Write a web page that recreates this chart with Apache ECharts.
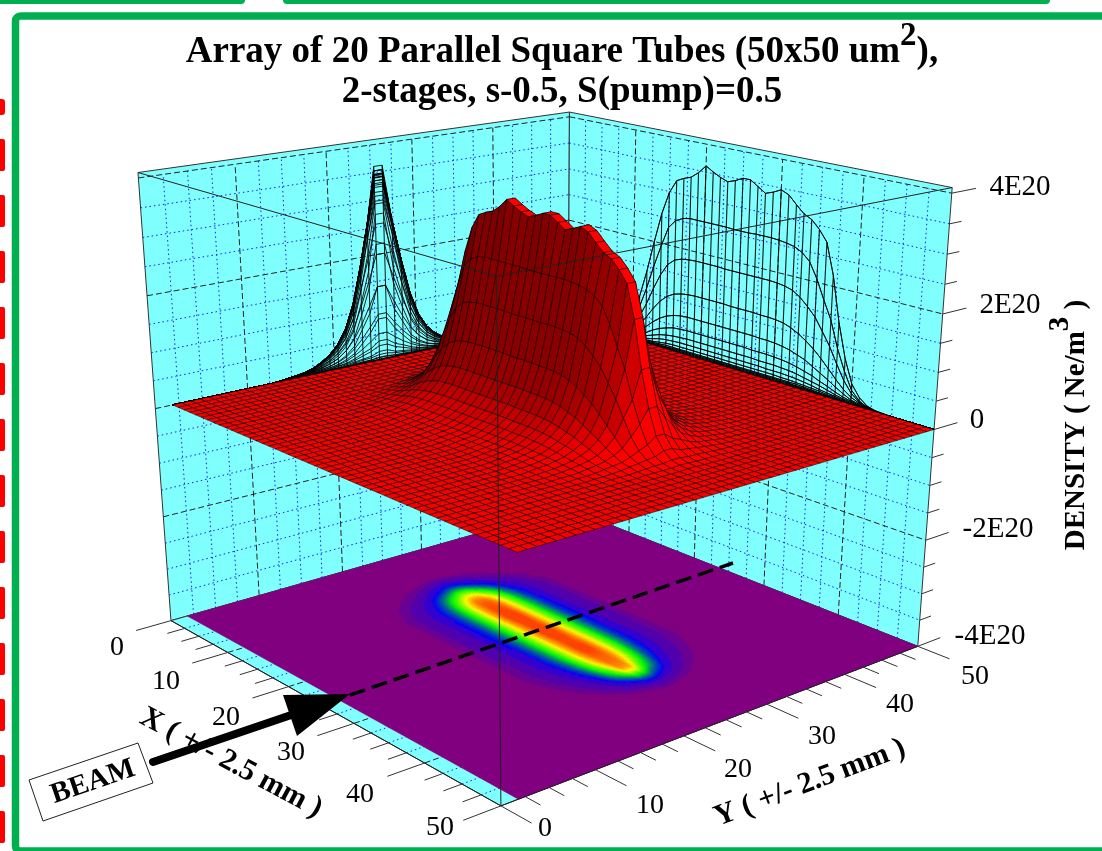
<!DOCTYPE html>
<html><head><meta charset="utf-8">
<script src="https://cdn.jsdelivr.net/npm/echarts@6/dist/echarts.min.js"></script>
<style>html,body{margin:0;padding:0;background:#fff}#c{width:1102px;height:851px}</style></head>
<body><div id="c"></div>
<script>
// ---------- data (density in units of 1E18 Ne/m3) ----------
const xTickLabels = ['0','10','20','30','40','50'];
const yTickLabels = ['0','10','20','30','40','50'];
const zTickLabels = ['-4E20','-2E20','0','2E20','4E20'];
const rowCount = 50;
// one list per row, counted outward from the two centre rows of the ridge; each row holds X = 0..50
const row0  = [0,0,0,0,0,1,2,5,11,28,51,88,140,200,256,298,323,330,335,346,361,353,346,341,346,353,353,344,335,340,347,341,327,314,307,293,274,219,140,79,37,17,6,2,1,0,0,0,0,0,0];
const row1  = [0,0,0,0,0,1,2,4,8,20,39,67,107,153,195,233,249,256,259,259,259,259,259,259,258,258,258,259,259,259,258,256,253,246,233,206,172,140,93,56,26,11,4,1,0,0,0,0,0,0,0];
const row2  = [0,0,0,0,0,1,2,3,7,15,28,48,76,110,140,163,175,180,182,183,183,183,183,182,182,182,182,182,182,182,181,179,175,166,153,138,116,93,65,39,20,9,4,1,0,0,0,0,0,0,0];
const row3  = [0,0,0,0,0,1,1,2,5,10,19,32,50,71,89,102,110,114,116,117,117,117,117,117,116,116,116,116,115,115,114,112,107,100,91,80,67,52,37,23,13,7,3,1,0,0,0,0,0,0,0];
const row4  = [0,0,0,0,0,0,1,2,3,7,12,20,32,45,56,64,69,72,73,73,73,73,73,73,73,73,73,73,72,72,71,69,66,61,56,48,40,32,23,15,8,5,2,1,0,0,0,0,0,0,0];
const row5  = [0,0,0,0,0,0,0,1,2,5,8,13,20,29,36,41,45,46,47,47,47,47,47,47,47,47,47,46,46,46,45,44,42,39,35,31,25,20,14,9,6,3,1,0,0,0,0,0,0,0,0];
const row6  = [0,0,0,0,0,0,0,1,1,3,6,9,14,19,24,27,29,30,31,31,31,31,31,31,31,31,31,31,30,30,30,29,28,26,23,20,17,13,9,6,4,2,1,0,0,0,0,0,0,0,0];
const row7  = [0,0,0,0,0,0,0,0,1,2,4,6,9,12,16,18,19,20,20,20,20,20,20,20,20,20,20,20,20,19,19,19,18,17,15,13,10,8,6,4,2,1,1,0,0,0,0,0,0,0,0];
const row8  = [0,0,0,0,0,0,0,0,1,1,2,4,6,7,9,11,12,12,12,12,12,12,12,12,12,12,12,12,12,12,12,11,11,10,9,8,7,5,4,2,1,1,0,0,0,0,0,0,0,0,0];
const row9  = [0,0,0,0,0,0,0,0,0,1,1,2,4,5,6,7,7,7,7,7,7,7,7,7,7,7,7,7,7,7,7,7,7,7,6,5,4,3,2,1,1,0,0,0,0,0,0,0,0,0,0];
const row10 = [0,0,0,0,0,0,0,0,0,0,1,1,2,3,4,4,5,5,5,5,5,5,5,5,5,5,5,5,5,5,5,5,5,4,4,3,3,2,1,1,0,0,0,0,0,0,0,0,0,0,0];
const row11 = [0,0,0,0,0,0,0,0,0,0,0,0,1,2,2,3,3,3,3,3,3,3,3,3,3,3,3,3,3,3,3,3,3,3,2,2,1,1,0,0,0,0,0,0,0,0,0,0,0,0,0];
const row12 = [0,0,0,0,0,0,0,0,0,0,0,0,0,1,1,1,1,1,1,1,1,1,1,1,1,1,1,1,1,1,1,1,1,1,1,1,0,0,0,0,0,0,0,0,0,0,0];
const ridgeRows = [row0,row1,row2,row3,row4,row5,row6,row7,row8,row9,row10,row11,row12];

// ---------- view calibration ----------
const serif = '"Liberation Serif","Times New Roman",serif';
const Y0 = 1.8, DY = (50 - Y0) / (rowCount - 1);
const TOP = 409;
const anchors = [
  [0,0,-400,171.7,620],[50,0,-400,500.5,806.5],[50,50,-400,918.3,646],[0,50,-400,567,509],
  [0,0,TOP,137.5,172.7],[50,0,TOP,497,277],[50,50,TOP,952,187.5],[0,50,TOP,570,112],
  [50,50,0,933,429],[50,50,200,943,314],[50,50,-200,926,540],[0,0,0,155,408]
];
function fitView(a){
  const n=11, A=[...Array(n)].map(()=>Array(n+1).fill(0));
  const add=(r,b)=>{for(let i=0;i<n;i++){for(let j=0;j<n;j++)A[i][j]+=r[i]*r[j];A[i][n]+=r[i]*b;}};
  a.forEach(([X,Y,Z,u,v])=>{const x=X/50,y=Y/50,z=Z/400;u/=1000;v/=1000;
    add([x,y,z,1,0,0,0,0,-u*x,-u*y,-u*z],u);add([0,0,0,0,x,y,z,1,-v*x,-v*y,-v*z],v);});
  for(let i=0;i<n;i++){let p=i;for(let k=i+1;k<n;k++)if(Math.abs(A[k][i])>Math.abs(A[p][i]))p=k;
    [A[i],A[p]]=[A[p],A[i]];for(let k=0;k<n;k++){if(k===i)continue;const f=A[k][i]/A[i][i];
      for(let j=i;j<=n;j++)A[k][j]-=f*A[i][j];}}
  return A.map((r,i)=>r[n]/r[i]);
}
const V = fitView(anchors);
function proj(X,Y,Z){const x=X/50,y=Y/50,z=Z/400,w=V[8]*x+V[9]*y+V[10]*z+1;
  return [(V[0]*x+V[1]*y+V[2]*z+V[3])/w*1000,(V[4]*x+V[5]*y+V[6]*z+V[7])/w*1000];}

const rowY = i => Y0 + i*DY;
const val = (ix,iy) => { const d=iy<=24?24-iy:iy-25; return d<ridgeRows.length ? (ridgeRows[d][ix]||0) : 0; };

// ---------- mark lists ----------
const poly=(pts,fill,stroke,lw)=>({k:'polygon',pts,fill,stroke,lw});
const line=(pts,stroke,lw,dash,op)=>({k:'polyline',pts,stroke,lw,dash,op});

const CY='#80FFFF', PU='#800080';
const back=[];
back.push(poly([[0,0,-400],[0,50,-400],[0,50,TOP],[0,0,TOP]],CY,'#333',1));
back.push(poly([[0,50,-400],[50,50,-400],[50,50,TOP],[0,50,TOP]],CY,'#333',1));
back.push(poly([[0,0,-400],[50,0,-400],[50,50,-400],[0,50,-400]],CY,'#333',1));
const gridStyle=(major)=>major?['#222',1,[6,3]]:['#1a1aff',1,[1.5,3]];
for(let k=1;k<20;k++){const t=k*2.5,m=k%4===0,[c,w,d]=gridStyle(m);
  back.push(line([[0,t,-400],[0,t,400]],c,w,d));
  back.push(line([[t,50,-400],[t,50,400]],c,w,d));
  back.push(line([[t,0,-400],[t,50,-400]],c,w,d));
  back.push(line([[0,t,-400],[50,t,-400]],c,w,d));
}
for(let k=1;k<=16;k++){const z=-400+k*50,m=k%4===0,[c,w,d]=gridStyle(m);
  back.push(line([[0,0,z],[0,50,z]],c,w,d));
  back.push(line([[0,50,z],[50,50,z]],c,w,d));
}
back.push(poly([[0,Y0,-400],[50,Y0,-400],[50,50,-400],[0,50,-400]],PU,PU,0.5));

// floor colour map
const stops=[[4,128,0,128],[8,105,0,150],[15,80,0,175],[30,50,0,210],[50,0,0,255],[135,0,255,0],[225,255,255,0],[285,255,140,0],[340,255,70,0]];
function mapColor(v){
  if(v<4) return null;
  if(v<50){ for(let i=stops.length-1;i>=0;i--) if(v>=stops[i][0]) return `rgb(${stops[i][1]},${stops[i][2]},${stops[i][3]})`; }
  for(let i=4;i<stops.length-1;i++){const a=stops[i],b=stops[i+1];
    if(v<=b[0]){const t=(v-a[0])/(b[0]-a[0]);return `rgb(${a[1]+t*(b[1]-a[1])|0},${a[2]+t*(b[2]-a[2])|0},${a[3]+t*(b[3]-a[3])|0})`;}}
  return 'rgb(255,70,0)';
}
const floorCells=[];
const SUB=4;
for(let ix=0;ix<50;ix++)for(let iy=0;iy<rowCount-1;iy++){
  const a=val(ix,iy),b=val(ix+1,iy),c=val(ix,iy+1),d=val(ix+1,iy+1);
  if(Math.max(a,b,c,d)<4) continue;
  for(let s=0;s<SUB;s++)for(let t=0;t<SUB;t++){
    const u=(s+.5)/SUB,w=(t+.5)/SUB;
    const v=a*(1-u)*(1-w)+b*u*(1-w)+c*(1-u)*w+d*u*w, col=mapColor(v);
    if(!col) continue;
    const x0=ix+s/SUB,x1=ix+(s+1)/SUB,y0=rowY(iy+t/SUB),y1=rowY(iy+(t+1)/SUB);
    floorCells.push(poly([[x0,y0,-400],[x1,y0,-400],[x1,y1,-400],[x0,y1,-400]],col,col,0.6));
  }
}

// wall projections
const wire=[];
for(let iy=0;iy<rowCount;iy++){const p=[];let mx=0;for(let ix=0;ix<=50;ix++){p.push([ix,50,val(ix,iy)]);mx=Math.max(mx,val(ix,iy));}
  wire.push(line(p,'#000',1,null,0.85));
  wire.push(line([[0,rowY(iy),0],[0,rowY(iy),mx]],'#000',1,null,0.9));}
for(let ix=0;ix<=50;ix++){const p=[];let mx=0;for(let iy=0;iy<rowCount;iy++){p.push([0,rowY(iy),val(ix,iy)]);mx=Math.max(mx,val(ix,iy));}
  wire.push(line(p,'#000',1,null,0.85));
  wire.push(line([[ix,50,0],[ix,50,mx]],'#000',1.1,null,0.9));}

// surface
const surface=[];
const Lx=.8,Ly=.35,Lz=.8;
for(let ix=0;ix<50;ix++)for(let iy=rowCount-2;iy>=0;iy--){
  const a=val(ix,iy),b=val(ix+1,iy),c=val(ix,iy+1),d=val(ix+1,iy+1);
  const dx=((b-a)+(d-c))/2/16, dy=((c-a)+(d-b))/2/(16*DY);
  const l=Math.hypot(dx,dy,1), nx=-dx/l, ny=-dy/l, nz=1/l;
  let I=nx*Lx+ny*Ly+nz*Lz; if(ny>0) I+=ny*.6;
  const R=Math.max(115,Math.min(255,155+115*I))|0;
  surface.push(poly([[ix,rowY(iy),a],[ix+1,rowY(iy),b],[ix+1,rowY(iy+1),d],[ix,rowY(iy+1),c]],`rgb(${R},0,0)`,'#000',0.5));
}

// front frame and ticks
const front=[
  line([[0,0,TOP],[50,0,TOP]],'#222',1),line([[50,0,TOP],[50,50,TOP]],'#222',1),line([[50,0,TOP],[50,0,-400]],'#222',1),
  line([[0,0,-400],[50,0,-400]],'#222',1),line([[50,0,-400],[50,50,-400]],'#222',1)
];
for(let k=0;k<=20;k++){const t=k*2.5,m=k%4===0,L=m?3.8:1.9;
  front.push(line([[t,0,-400],[t,-L,-400]],'#333',1));
  front.push(line([[50,t,-400],[50+L,t,-400]],'#333',1));
}
for(let k=0;k<=16;k++){const z=-400+k*50,m=k%4===0,L=m?3.2:1.6;
  front.push(line([[50,50,z],[50,50+L,z]],'#333',1));
}

// ---------- label placement ----------
const xLabelAt=[[117,648],[166,682],[226,718],[291,753],[360,795],[440,828]];
const yLabelAt=[[545,829],[650,806],[738,770],[822,737],[900,705],[975,677]];
const zLabelAt=[[990,636],[998,529],[977,420],[1010,305],[1020,187]];

function txt(text,x,y,size,bold,rot,extra){
  return Object.assign({type:'text',x,y,rotation:rot||0,z:50,silent:true,
    style:Object.assign({text,align:'center',verticalAlign:'middle',fill:'#000',
      font:`${bold?'bold ':''}${size}px ${serif}`},extra||{})});
}
const labels=[];
xTickLabels.forEach((t,i)=>labels.push(txt(t,xLabelAt[i][0],xLabelAt[i][1],28)));
yTickLabels.forEach((t,i)=>labels.push(txt(t,yLabelAt[i][0],yLabelAt[i][1],28)));
zTickLabels.forEach((t,i)=>labels.push(txt(t,zLabelAt[i][0],zLabelAt[i][1],29)));
labels.push(txt('X ( +/- 2.5 mm )',231,763,30,true,-0.49));
labels.push(txt('Y ( +/- 2.5 mm )',810,783,30,true,0.363));
labels.push(txt('{a|DENSITY ( Ne/m}{b|3}{a| )}',1069,425,29,true,Math.PI/2,{
  rich:{a:{font:`bold 29px ${serif}`,lineHeight:44,verticalAlign:'bottom'},
        b:{font:`bold 29px ${serif}`,lineHeight:44,padding:[0,0,16,0],verticalAlign:'bottom'}}}));
labels.push(txt('BEAM',93,782,29,true,0.33));

const deco=[];
deco.push({type:'rect',z:40,silent:true,shape:{x:15.5,y:16,width:1200,height:835,r:5},style:{fill:'none',stroke:'#00B050',lineWidth:7.5}});
deco.push({type:'rect',z:40,silent:true,shape:{x:-10,y:-10,width:255,height:14,r:4},style:{fill:'#00B050'}});
deco.push({type:'rect',z:40,silent:true,shape:{x:283,y:-10,width:767,height:14,r:4},style:{fill:'#00B050'}});
deco.push({type:'rect',z:40,silent:true,shape:{x:-6,y:99,width:11,height:16,r:3},style:{fill:'#FF0000'}});
for(let y=139;y<=811;y+=56)deco.push({type:'rect',z:40,silent:true,shape:{x:-6,y,width:11,height:32,r:2},style:{fill:'#FF0000'}});
// beam annotation
deco.push({type:'line',z:45,silent:true,shape:{x1:350,y1:695,x2:733,y2:563},style:{stroke:'#000',lineWidth:3.5,lineDash:[16,7]}});
deco.push({type:'line',z:60,silent:true,shape:{x1:153,y1:762,x2:300,y2:712},style:{stroke:'#000',lineWidth:8,lineCap:'round'}});
deco.push({type:'polygon',z:60,silent:true,shape:{points:[[350,694],[283,695],[297,736]]},style:{fill:'#000'}});
deco.push({type:'polygon',z:49,silent:true,shape:{points:[[29,780],[138,743],[153,783],[43,821]]},style:{fill:'#fff',stroke:'#222',lineWidth:1}});

// ---------- chart ----------
function marks(items,z){
  return {type:'custom',coordinateSystem:'cartesian2d',silent:true,clip:false,animation:false,progressive:0,z,
    data:items.map((_,i)=>[i]),
    renderItem(p,api){
      const it=items[p.dataIndex];
      const points=it.pts.map(q=>api.coord(proj(q[0],q[1],q[2])));
      const style=it.k==='polygon'?{fill:it.fill,stroke:it.stroke,lineWidth:it.lw}
        :{fill:null,stroke:it.stroke,lineWidth:it.lw,lineDash:it.dash||null,opacity:it.op==null?1:it.op};
      return {type:it.k,shape:{points},style};
    }};
}
const chart=echarts.init(document.getElementById('c'),null,{renderer:'canvas'});
chart.setOption({
  animation:false,backgroundColor:'#fff',
  title:{left:557,top:26,textAlign:'center',
    text:'{a|Array of 20 Parallel Square Tubes (50x50 um}{b|2}{a|),}\n{a|2-stages, s-0.5, S(pump)=0.5}',
    textStyle:{rich:{a:{fontFamily:serif,fontWeight:'bold',fontSize:37,color:'#000',lineHeight:40,verticalAlign:'bottom'},
      b:{fontFamily:serif,fontWeight:'bold',fontSize:33,color:'#000',lineHeight:40,padding:[0,0,18,0],verticalAlign:'bottom'}}}},
  grid:{left:0,right:0,top:0,bottom:0},
  xAxis:{type:'value',min:0,max:1102,show:false},
  yAxis:{type:'value',min:0,max:851,inverse:true,show:false},
  series:[marks(back,1),marks(floorCells,2),marks(wire,3),marks(surface,4),marks(front,5)],
  graphic:{elements:deco.concat(labels)}
});
</script></body></html>
